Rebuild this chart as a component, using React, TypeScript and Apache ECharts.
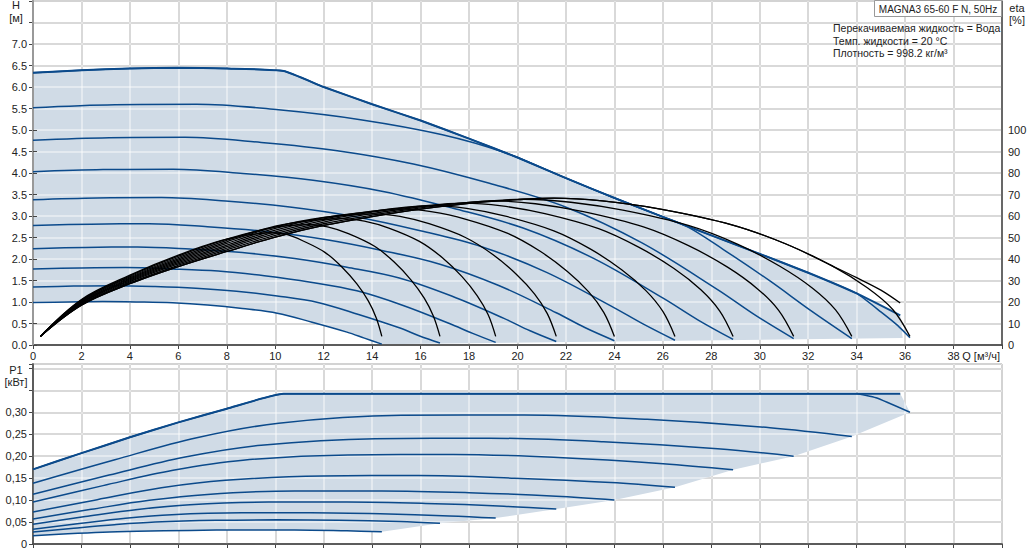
import React, { useEffect, useRef } from "react";
import * as echarts from "echarts";

// ---------- Head curves (Q [m3/h], H [m]) ----------
const maxQ = [0, 2, 4, 6, 8, 10.34, 12, 14, 16, 18, 20, 22, 24, 26, 28, 30, 32, 34, 35.8];
const maxH = [6.33, 6.39, 6.43, 6.45, 6.43, 6.37, 6.0, 5.6, 5.22, 4.8, 4.36, 3.88, 3.42, 2.98, 2.55, 2.12, 1.68, 1.2, 0.69];

const c1Q = [0, 2, 4, 6, 8, 10.34, 12, 14, 16, 18, 20, 22, 24, 26, 28, 30, 32, 34, 35, 35.7, 36.2];
const c1H = [6.33, 6.39, 6.43, 6.45, 6.43, 6.37, 6.0, 5.6, 5.22, 4.8, 4.36, 3.88, 3.42, 2.98, 2.55, 2.12, 1.68, 1.2, 0.77, 0.45, 0.17];
const c2Q = [0, 3.38, 6.76, 10.14, 13.52, 16.9, 19.5, 22, 24, 26, 27.04, 28.5, 30.42, 32.11, 33.8];
const c2H = [5.52, 5.59, 5.6, 5.47, 5.24, 4.89, 4.47, 3.88, 3.42, 2.98, 2.74, 2.22, 1.49, 0.8, 0.15];
const c3Q = [0, 3.14, 6.28, 9.42, 12.56, 15.7, 18.84, 21.98, 25.12, 28.26, 29.83, 31.4];
const c3H = [4.76, 4.82, 4.83, 4.71, 4.52, 4.21, 3.76, 3.21, 2.38, 1.29, 0.69, 0.15];
const c4Q = [0, 2.89, 5.78, 8.67, 11.56, 14.45, 17.34, 20.23, 23.12, 26.01, 27.46, 28.9];
const c4H = [4.03, 4.08, 4.09, 3.99, 3.83, 3.57, 3.18, 2.72, 2.02, 1.09, 0.58, 0.13];
const c5Q = [0, 2.65, 5.3, 7.95, 10.6, 13.25, 15.9, 18.55, 21.2, 23.85, 25.18, 26.5];
const c5H = [3.38, 3.42, 3.43, 3.35, 3.21, 2.99, 2.67, 2.28, 1.69, 0.91, 0.49, 0.11];
const c6Q = [0, 2.4, 4.8, 7.2, 9.6, 12, 14.4, 16.8, 19.2, 21.6, 22.8, 24];
const c6H = [2.78, 2.81, 2.82, 2.75, 2.64, 2.46, 2.2, 1.88, 1.39, 0.75, 0.4, 0.1];
const c7Q = [0, 2.16, 4.32, 6.48, 8.64, 10.8, 12.96, 15.12, 17.28, 19.44, 20.52, 21.6];
const c7H = [2.24, 2.27, 2.28, 2.23, 2.15, 2.01, 1.81, 1.56, 1.14, 0.62, 0.33, 0.08];
const c8Q = [0, 1.91, 3.82, 5.73, 7.64, 9.55, 11.46, 13.37, 15.28, 17.19, 18.15, 19.1];
const c8H = [1.77, 1.79, 1.8, 1.77, 1.72, 1.61, 1.46, 1.26, 0.92, 0.5, 0.27, 0.06];
const c9Q = [0, 1.68, 3.36, 5.04, 6.72, 8.4, 10.08, 11.76, 13.44, 15.12, 15.96, 16.8];
const c9H = [1.35, 1.37, 1.38, 1.36, 1.32, 1.25, 1.14, 0.99, 0.71, 0.4, 0.21, 0.045];
const c10Q = [0, 1.44, 2.88, 4.32, 5.76, 7.2, 8.64, 10.08, 11.52, 12.96, 13.68, 14.4];
const c10H = [0.99, 1.0, 1.01, 1.0, 0.98, 0.93, 0.85, 0.74, 0.53, 0.3, 0.16, 0.02];

const lowQ = [14.4, 35.9];
const lowH = [0.02, 0.16];

// ---------- Efficiency curves (Q, eta %) ----------
const eMaxQ = [0.3, 2, 4, 6, 8, 10, 12, 14, 16, 18, 20, 21.5, 23.5, 25.9, 28.85, 31.06, 32.97, 34, 35, 35.8];
const eMax = [4, 18.5, 28.5, 36.5, 43.5, 50.2, 55.6, 59.7, 63.2, 65.9, 67.6, 68.3, 67, 63.2, 55.9, 47.1, 36.9, 31.3, 25.5, 19.5];
const e1Q = [0.3, 2, 4, 6, 8, 10, 12, 14, 16, 18, 20, 21.5, 23.5, 25.9, 28.85, 31.06, 32.97, 34.44, 35.5, 36.2];
const e1 = [4, 18.5, 28.5, 36.5, 43.5, 50.2, 55.6, 59.7, 63.2, 65.9, 67.6, 68.3, 67, 63.2, 55.9, 47.1, 36.9, 26.6, 16.4, 4];
const e2Q = [0.3, 2, 4, 6, 8, 10, 12, 14, 16, 18, 20.3, 22.2, 24.35, 27.05, 29.1, 30.83, 32.18, 33.13, 33.8];
const e2 = [4, 18.8, 28.95, 37.1, 44.25, 51, 56.4, 60.4, 63.8, 66.3, 67.8, 66.4, 62.7, 55.6, 46.8, 36.6, 26.4, 16.3, 4];
const e3Q = [0.3, 2, 4, 6, 8, 10, 12, 14, 16, 17.5, 19, 20.74, 22.72, 25.2, 27.06, 28.67, 29.91, 30.78, 31.4];
const e3 = [4, 19.1, 29.4, 37.7, 45, 51.8, 57.2, 61.1, 64.3, 65.9, 67, 65.7, 62, 54.9, 46.2, 36.2, 26.1, 16.1, 4];
const e4Q = [0.3, 2, 4, 6, 8, 10, 12, 14, 16, 17.8, 19.35, 21.13, 23.35, 25, 26.46, 27.57, 28.35, 28.9];
const e4 = [4, 19.4, 29.85, 38.3, 45.75, 52.6, 58, 61.8, 64.6, 66, 64.7, 61.1, 54.1, 45.5, 35.6, 25.7, 15.8, 4];
const e5Q = [0.3, 2, 4, 6, 8, 10, 12, 14, 16.5, 17.9, 19.5, 21.5, 23, 24.3, 25.3, 26, 26.5];
const e5 = [4, 19.7, 30.3, 38.9, 46.5, 53.4, 58.7, 62.2, 64.8, 63.5, 59.9, 53.1, 44.7, 35, 25.3, 15.6, 4];
const e6Q = [0.3, 2, 4, 6, 8, 10, 12, 13.6, 15.2, 16.43, 17.84, 19.6, 20.92, 22.06, 22.94, 23.56, 24];
const e6 = [4, 20, 30.75, 39.5, 47.25, 54.2, 59.2, 61.6, 63.3, 62, 58.6, 51.9, 43.7, 34.2, 24.7, 15.2, 4];
const e7Q = [0.3, 2, 4, 6, 8, 10, 12, 14.1, 15.15, 16.35, 17.85, 18.98, 19.95, 20.7, 21.23, 21.6];
const e7 = [4, 20.3, 31.2, 40.1, 48, 54.9, 59.3, 61, 59.8, 56.4, 50, 42.1, 32.9, 23.8, 14.6, 4];
const e8Q = [0.3, 2, 4, 6, 8, 10, 11.5, 12.8, 13.68, 14.69, 15.95, 16.9, 17.71, 18.34, 18.79, 19.1];
const e8 = [4, 20.6, 31.65, 40.7, 48.7, 55.3, 58, 58.8, 57.6, 54.4, 48.2, 40.6, 31.8, 22.9, 14.1, 4];
const e9Q = [0.3, 2, 4, 6, 8, 10, 11.4, 12.16, 13.02, 14.1, 14.91, 15.61, 16.15, 16.53, 16.8];
const e9 = [4, 20.9, 32.1, 41.3, 49.2, 54.8, 56, 54.9, 51.8, 45.9, 38.6, 30.2, 21.8, 13.4, 4];
const e10Q = [0.3, 2, 4, 6, 8, 9.9, 10.5, 11.11, 12.05, 12.76, 13.37, 13.84, 14.17, 14.4];
const e10 = [4, 21.2, 32.5, 41.8, 49.2, 52.2, 51.3, 48.6, 43.1, 36.2, 28.4, 20.5, 12.6, 4];

// ---------- Power curves (Q, P1 kW) ----------
const pMaxQ = [0, 2, 4, 6, 8, 10.34, 35.8];
const pMax = [0.17, 0.207, 0.243, 0.277, 0.308, 0.342, 0.342];
const p1Q = [0, 2, 4, 6, 8, 10.34, 34, 34.8, 36.2];
const p1 = [0.17, 0.207, 0.243, 0.277, 0.308, 0.342, 0.342, 0.333, 0.3];
const p2Q = [0, 3.38, 6.76, 10.14, 15.21, 20.28, 25.35, 30.42, 33.8];
const p2 = [0.1385, 0.192, 0.242, 0.275, 0.293, 0.294, 0.284, 0.265, 0.245];
const p3Q = [0, 3.14, 6.28, 9.42, 14.13, 18.84, 23.55, 28.26, 31.4];
const p3 = [0.1134, 0.157, 0.198, 0.225, 0.24, 0.241, 0.233, 0.217, 0.2];
const p4Q = [0, 2.89, 5.78, 8.67, 13.0, 17.34, 21.68, 26.01, 28.9];
const p4 = [0.0959, 0.133, 0.168, 0.191, 0.203, 0.204, 0.197, 0.183, 0.169];
const p5Q = [0, 2.65, 5.3, 7.95, 11.93, 15.9, 19.88, 23.85, 26.5];
const p5 = [0.073, 0.101, 0.128, 0.145, 0.155, 0.156, 0.15, 0.14, 0.129];
const p6Q = [0, 2.4, 4.8, 7.2, 10.8, 14.4, 18, 21.6, 24];
const p6 = [0.057, 0.079, 0.0995, 0.113, 0.121, 0.121, 0.117, 0.109, 0.1005];
const p7Q = [0, 2.16, 4.32, 6.48, 9.72, 12.96, 16.2, 19.44, 21.6];
const p7 = [0.045, 0.0625, 0.0787, 0.0896, 0.0954, 0.0957, 0.0925, 0.0861, 0.0795];
const p8Q = [0, 1.91, 3.82, 5.73, 8.6, 11.46, 14.33, 17.19, 19.1];
const p8 = [0.0335, 0.0465, 0.0585, 0.0666, 0.0709, 0.0711, 0.0688, 0.064, 0.059];
const p9Q = [0, 1.68, 3.36, 5.04, 7.56, 10.08, 12.6, 15.12, 16.8];
const p9 = [0.0274, 0.036, 0.044, 0.05, 0.054, 0.055, 0.054, 0.051, 0.047];
const p10Q = [0, 1.44, 2.88, 4.32, 6.48, 8.64, 10.8, 12.96, 14.4];
const p10 = [0.019, 0.0235, 0.027, 0.029, 0.031, 0.032, 0.032, 0.03, 0.028];

// ---------- Texts ----------
const title = "MAGNA3 65-60 F N, 50Hz";
const infoLines = ["Перекачиваемая жидкость = Вода", "Темп. жидкости = 20 °C", "Плотность = 998.2 кг/м³"];
const etaTicks = [0, 10, 20, 30, 40, 50, 60, 70, 80, 90, 100];

const BLUE = "#0b4a8b";
const FILL = "#d0dbe6";
const GRID_UNDER = "#a8a8a8";
const GRID_OVER = "rgba(255,255,255,0.56)";
const FONT = "'Liberation Sans', Arial, sans-serif";

const pairs = (xs: number[], ys: number[]) => xs.map((x, i) => [x, ys[i]]);

export default function App() {
  const ref = useRef<HTMLDivElement>(null);
  useEffect(() => {
    const chart = echarts.init(ref.current!, null, { renderer: "svg" });

    const headOutline: number[][] = [
      ...pairs(maxQ, maxH),
      ...pairs(lowQ, lowH).reverse(),
      ...pairs(c10Q, c10H).reverse().slice(1),
    ];
    const lastOf = (q: number[], p: number[]) => [q[q.length - 1], p[p.length - 1]];
    const powerOutline: number[][] = [
      ...pairs(pMaxQ, pMax),
      lastOf(p1Q, p1),
      lastOf(p2Q, p2),
      lastOf(p3Q, p3),
      lastOf(p4Q, p4),
      lastOf(p5Q, p5),
      lastOf(p6Q, p6),
      lastOf(p7Q, p7),
      lastOf(p8Q, p8),
      lastOf(p9Q, p9),
      ...pairs(p10Q, p10).reverse(),
    ];

    const fillSeries = (outline: number[][], xi: number, yi: number) => ({
      type: "custom",
      xAxisIndex: xi,
      yAxisIndex: yi,
      z: 1,
      silent: true,
      data: [[0, 0]],
      renderItem: (_p: any, api: any) => ({
        type: "polygon",
        shape: { points: outline.map((pt) => api.coord(pt)) },
        style: { fill: FILL, stroke: "none" },
      }),
    });

    const line = (xs: number[], ys: number[], xi: number, yi: number, color: string, width: number, smooth: number) => ({
      type: "line",
      xAxisIndex: xi,
      yAxisIndex: yi,
      data: pairs(xs, ys),
      showSymbol: false,
      symbol: "none",
      smooth,
      silent: true,
      z: color === BLUE ? 5 : 6,
      lineStyle: { color, width },
    });

    const heads = [
      [c2Q, c2H], [c3Q, c3H], [c4Q, c4H], [c5Q, c5H], [c6Q, c6H],
      [c7Q, c7H], [c8Q, c8H], [c9Q, c9H], [c10Q, c10H],
    ];
    const etas = [
      [eMaxQ, eMax], [e1Q, e1], [e2Q, e2], [e3Q, e3], [e4Q, e4], [e5Q, e5],
      [e6Q, e6], [e7Q, e7], [e8Q, e8], [e9Q, e9], [e10Q, e10],
    ];
    const powers = [
      [p2Q, p2], [p3Q, p3], [p4Q, p4], [p5Q, p5], [p6Q, p6],
      [p7Q, p7], [p8Q, p8], [p9Q, p9], [p10Q, p10],
    ];

    const axisText = { color: "#222", fontSize: 11, fontFamily: FONT };
    const darkLine = { show: true, lineStyle: { color: "#444", width: 1.5 } };
    const xMain = (gi: number, labels: boolean) => ({
      type: "value",
      gridIndex: gi,
      min: 0,
      max: 40,
      interval: 2,
      z: 0,
      axisLine: darkLine,
      axisTick: { show: true, length: 4, lineStyle: { color: "#444" } },
      axisLabel: labels
        ? { ...axisText, margin: 5, formatter: (v: number) => (v >= 40 ? "" : String(v)) }
        : { show: false },
      splitLine: { show: true, lineStyle: { color: GRID_UNDER, width: 1.5 } },
    });
    const xOver = (gi: number) => ({
      type: "value",
      gridIndex: gi,
      min: 0,
      max: 40,
      interval: 2,
      z: 3,
      axisLine: darkLine,
      axisTick: { show: false },
      axisLabel: { show: false },
      splitLine: { show: true, lineStyle: { color: GRID_OVER, width: 1.5 } },
    });
    const yOver = (gi: number, max: number, interval: number) => ({
      type: "value",
      gridIndex: gi,
      min: 0,
      max,
      interval,
      z: 3,
      axisLine: darkLine,
      axisTick: { show: false },
      axisLabel: { show: false },
      splitLine: { show: true, lineStyle: { color: GRID_OVER, width: 1.5 } },
    });

    const option: any = {
      animation: false,
      textStyle: { fontFamily: FONT },
      grid: [
        { left: 33, right: 29, top: 1, height: 344, show: true, borderColor: "#b0b0b0", borderWidth: 1 },
        { left: 33, right: 29, top: 364, height: 180, show: true, borderColor: "#b0b0b0", borderWidth: 1 },
      ],
      xAxis: [xMain(0, true), xMain(1, false), xOver(0), xOver(1)],
      yAxis: [
        {
          type: "value",
          gridIndex: 0,
          min: 0,
          max: 8,
          interval: 0.5,
          z: 0,
          axisLine: darkLine,
          axisTick: { show: true, length: 4, lineStyle: { color: "#444" } },
          axisLabel: { ...axisText, margin: 6, formatter: (v: number) => (v > 7.01 ? "" : v.toFixed(1)) },
          splitLine: { show: true, lineStyle: { color: GRID_UNDER, width: 1.5 } },
        },
        {
          type: "value",
          gridIndex: 0,
          position: "right",
          min: 0,
          max: 160,
          interval: 10,
          z: 4,
          axisLine: { show: true, lineStyle: { color: "#999", width: 2 } },
          axisTick: { show: true, length: 4, customValues: etaTicks, lineStyle: { color: "#444" } },
          axisLabel: { ...axisText, margin: 6, customValues: etaTicks, formatter: (v: number) => String(v) },
          splitLine: { show: false },
        },
        {
          type: "value",
          gridIndex: 1,
          min: 0,
          max: 0.41,
          interval: 0.05,
          z: 0,
          axisLine: darkLine,
          axisTick: { show: true, length: 4, lineStyle: { color: "#444" } },
          axisLabel: {
            ...axisText,
            margin: 6,
            formatter: (v: number) => (v > 0.301 ? "" : v < 0.001 ? "0" : v.toFixed(2).replace(".", ",")),
          },
          splitLine: { show: true, lineStyle: { color: GRID_UNDER, width: 1.5 } },
        },
        yOver(0, 8, 0.5),
        yOver(1, 0.41, 0.05),
      ],
      graphic: [
        { type: "text", x: 16, y: 5, style: { text: "H", font: `11px ${FONT}`, fill: "#222", align: "center", verticalAlign: "middle" } },
        { type: "text", x: 16, y: 18, style: { text: "[м]", font: `11px ${FONT}`, fill: "#222", align: "center", verticalAlign: "middle" } },
        { type: "text", x: 16, y: 370, style: { text: "P1", font: `11px ${FONT}`, fill: "#222", align: "center", verticalAlign: "middle" } },
        { type: "text", x: 16, y: 382, style: { text: "[кВт]", font: `11px ${FONT}`, fill: "#222", align: "center", verticalAlign: "middle" } },
        { type: "text", x: 1017, y: 8, style: { text: "eta", font: `11px ${FONT}`, fill: "#222", align: "center", verticalAlign: "middle" } },
        { type: "text", x: 1017, y: 20, style: { text: "[%]", font: `11px ${FONT}`, fill: "#222", align: "center", verticalAlign: "middle" } },
        { type: "text", x: 1000, y: 356, style: { text: "Q [м³/ч]", font: `11px ${FONT}`, fill: "#222", align: "right", verticalAlign: "middle" } },
        { type: "rect", shape: { x: 874.5, y: 0.5, width: 127, height: 16 }, style: { fill: "#fff", stroke: "#999", lineWidth: 1 }, z: 10 },
        { type: "text", x: 938, y: 9, z: 11, style: { text: title, font: `10px ${FONT}`, fill: "#222", align: "center", verticalAlign: "middle" } },
        ...infoLines.map((t, i) => ({
          type: "text",
          x: 833,
          y: 28 + i * 12.5,
          z: 11,
          style: { text: t, font: `10.5px ${FONT}`, fill: "#222", verticalAlign: "middle" },
        })),
      ],
      series: [
        fillSeries(headOutline, 0, 0),
        fillSeries(powerOutline, 1, 2),
        line(maxQ, maxH, 0, 0, BLUE, 2, 0.15),
        line(c1Q, c1H, 0, 0, BLUE, 1.5, 0.15),
        ...heads.map(([q, h]) => line(q, h, 0, 0, BLUE, 1.5, 0.35)),
        ...etas.map(([q, e]) => line(q, e, 0, 1, "#000", 1.3, 0.35)),
        line(pMaxQ, pMax, 1, 2, BLUE, 2, 0.15),
        line(p1Q, p1, 1, 2, BLUE, 1.5, 0.15),
        ...powers.map(([q, p]) => line(q, p, 1, 2, BLUE, 1.5, 0.35)),
      ],
    };
    chart.setOption(option);
    return () => chart.dispose();
  }, []);
  return <div ref={ref} style={{ position: "absolute", left: 0, top: 0, width: 1031, height: 553 }} />;
}
